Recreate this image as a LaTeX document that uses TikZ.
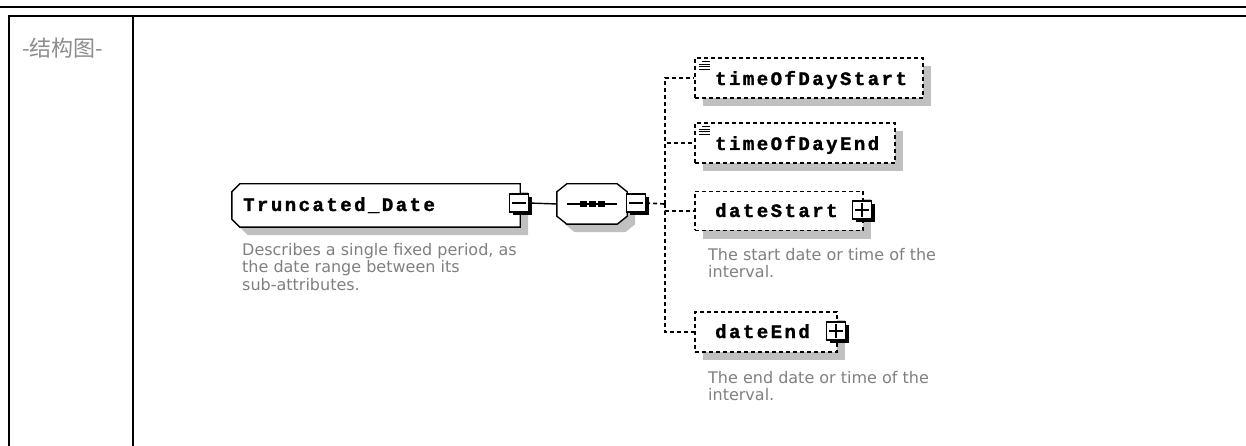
\documentclass[tikz,border=0pt]{standalone}
\usepackage{fontspec}
\setmainfont{DejaVu Sans}
\newfontfamily\cjkfont{Noto Sans CJK SC}
\newfontfamily\elemfont[LetterSpace=13, BoldFeatures={FakeBold=1.5}]{Liberation Mono}
\usetikzlibrary{shadows,calc}
\definecolor{shadowgray}{RGB}{192,192,192}
\definecolor{note}{RGB}{128,128,128}
\definecolor{caption}{RGB}{140,140,140}

\tikzset{
  frame/.style={line width=2pt, line cap=rect},
  boxshadow/.style={drop shadow={shadow xshift=8pt, shadow yshift=-8pt, fill=shadowgray, opacity=1}},
  optbox/.style={draw, line width=1.7pt, dash pattern=on 4pt off 3pt, fill=white, inner sep=0pt, boxshadow},
  expander/.style={draw, line width=1.3pt, fill=white, inner sep=0pt,
    minimum width=19pt, minimum height=18pt,
    drop shadow={shadow xshift=3pt, shadow yshift=-3pt, fill=black, opacity=1}},
  elemtext/.style={font=\elemfont\bfseries\fontsize{19}{19}\selectfont, inner sep=0pt, anchor=base west},
  doctext/.style={font=\fontsize{16}{17.5}\selectfont, text=note, inner sep=0pt, align=left, anchor=base west},
  link/.style={line width=1.4pt},
  optlink/.style={line width=1.7pt, dash pattern=on 4pt off 3pt},
  % outline with the two left corners cut off (element box)
  leftcut/.style n args={4}{insert path={
    ($(#1.north west)+(#2+#3,#4)$) -- ($(#1.north east)+(#3,#4)$) --
    ($(#1.south east)+(#3,#4)$) -- ($(#1.south west)+(#2+#3,#4)$) --
    ($(#1.south west)+(#3,-#2+#4)$) -- ($(#1.north west)+(#3,#2+#4)$) -- cycle}},
  % octagon outline (compositor box)
  allcut/.style n args={5}{insert path={
    ($(#1.north west)+(#2+#4,#5)$) -- ($(#1.north east)+(-#2+#4,#5)$) --
    ($(#1.north east)+(#4,#3+#5)$) -- ($(#1.south east)+(#4,-#3+#5)$) --
    ($(#1.south east)+(-#2+#4,#5)$) -- ($(#1.south west)+(#2+#4,#5)$) --
    ($(#1.south west)+(#4,-#3+#5)$) -- ($(#1.north west)+(#4,#3+#5)$) -- cycle}},
}

\newcommand{\signminus}[1]{%
  \draw[line width=1.3pt] ([xshift=3pt]#1.west) -- ([xshift=-3pt]#1.east);}
\newcommand{\signplus}[1]{%
  \signminus{#1}%
  \draw[line width=1.3pt] ([yshift=-3pt]#1.north) -- ([yshift=3pt]#1.south);}
\newcommand{\docicon}[1]{%
  \draw[line width=1.1pt] ($(#1.north west)+(8,4.5)$) -- +(8,0);
  \foreach \dy in {7,9.5,12} \draw[line width=1.1pt] ($(#1.north west)+(5,\dy)$) -- +(11,0);}

\begin{document}
\begin{tikzpicture}[x=1pt,y=-1pt]
\useasboundingbox (0,0) rectangle (1246,446);

% page rule and table frame
\draw[line width=2.5pt] (0,7) -- (1246,7);
\draw[frame] (1246,16) -- (9,16) -- (9,446);
\draw[frame] (133,16) -- (133,446);
\node[anchor=west, font=\cjkfont\fontsize{22}{22}\selectfont, text=caption, inner sep=0pt] (structLabel) at (22,48) {-结构图-};

% root element
\node[inner sep=0pt, minimum width=288pt, minimum height=43pt] (trunc) at (376,205.5) {};
\fill[shadowgray, leftcut={trunc}{8}{8}{8}];
\filldraw[fill=white, link, leftcut={trunc}{8}{0}{0}];
\node[elemtext] (truncText) at (243,211) {Truncated\_Date};
\node[expander] (truncExp) at (519,203) {};
\signminus{truncExp}
\node[doctext] (truncDoc) at (242,290) {Describes a single fixed period, as\\the date range between its\\sub-attributes.};

% sequence compositor
\node[inner sep=0pt, minimum width=70pt, minimum height=40pt] (seq) at (592,204) {};
\fill[shadowgray, allcut={seq}{10}{8}{8}{8}];
\filldraw[fill=white, link, allcut={seq}{10}{8}{0}{0}];
\draw[link] ([xshift=10pt]seq.west) -- ([xshift=-10pt]seq.east);
\foreach \sx in {583,592,601.5} \fill (\sx-3.5,201.5) rectangle (\sx+3.5,207);
\node[expander] (seqExp) at (636,203) {};
\signminus{seqExp}

\draw[link] (truncExp.east) -- (seq.west);

% optional children
\node[optbox, minimum width=228pt, minimum height=40pt] (tStart) at (809,78) {};
\docicon{tStart}
\node[elemtext] (tStartText) at (715,85) {timeOfDayStart};

\node[optbox, minimum width=200pt, minimum height=40pt] (tEnd) at (795,143) {};
\docicon{tEnd}
\node[elemtext] (tEndText) at (715,150) {timeOfDayEnd};

\node[optbox, minimum width=168pt, minimum height=39pt] (dStart) at (779,211) {};
\node[elemtext] (dStartText) at (715,217) {dateStart};
\node[expander] (dStartExp) at (862,210) {};
\signplus{dStartExp}
\node[doctext] (dStartDoc) at (708,277.5) {The start date or time of the\\interval.};

\node[optbox, minimum width=142pt, minimum height=40pt] (dEnd) at (766,332) {};
\node[elemtext] (dEndText) at (715,338) {dateEnd};
\node[expander] (dEndExp) at (836,331) {};
\signplus{dEndExp}
\node[doctext] (dEndDoc) at (708,400.5) {The end date or time of the\\interval.};

% connectors from the sequence to its children
\coordinate (fork) at (665,204);
\draw[optlink] (seqExp.east) -- (fork);
\draw[optlink] (fork) |- (tStart.west);
\draw[optlink] (fork) |- (tEnd.west);
\draw[optlink] (fork) |- (dStart.west);
\draw[optlink] (fork) |- (dEnd.west);
\end{tikzpicture}
\end{document}
